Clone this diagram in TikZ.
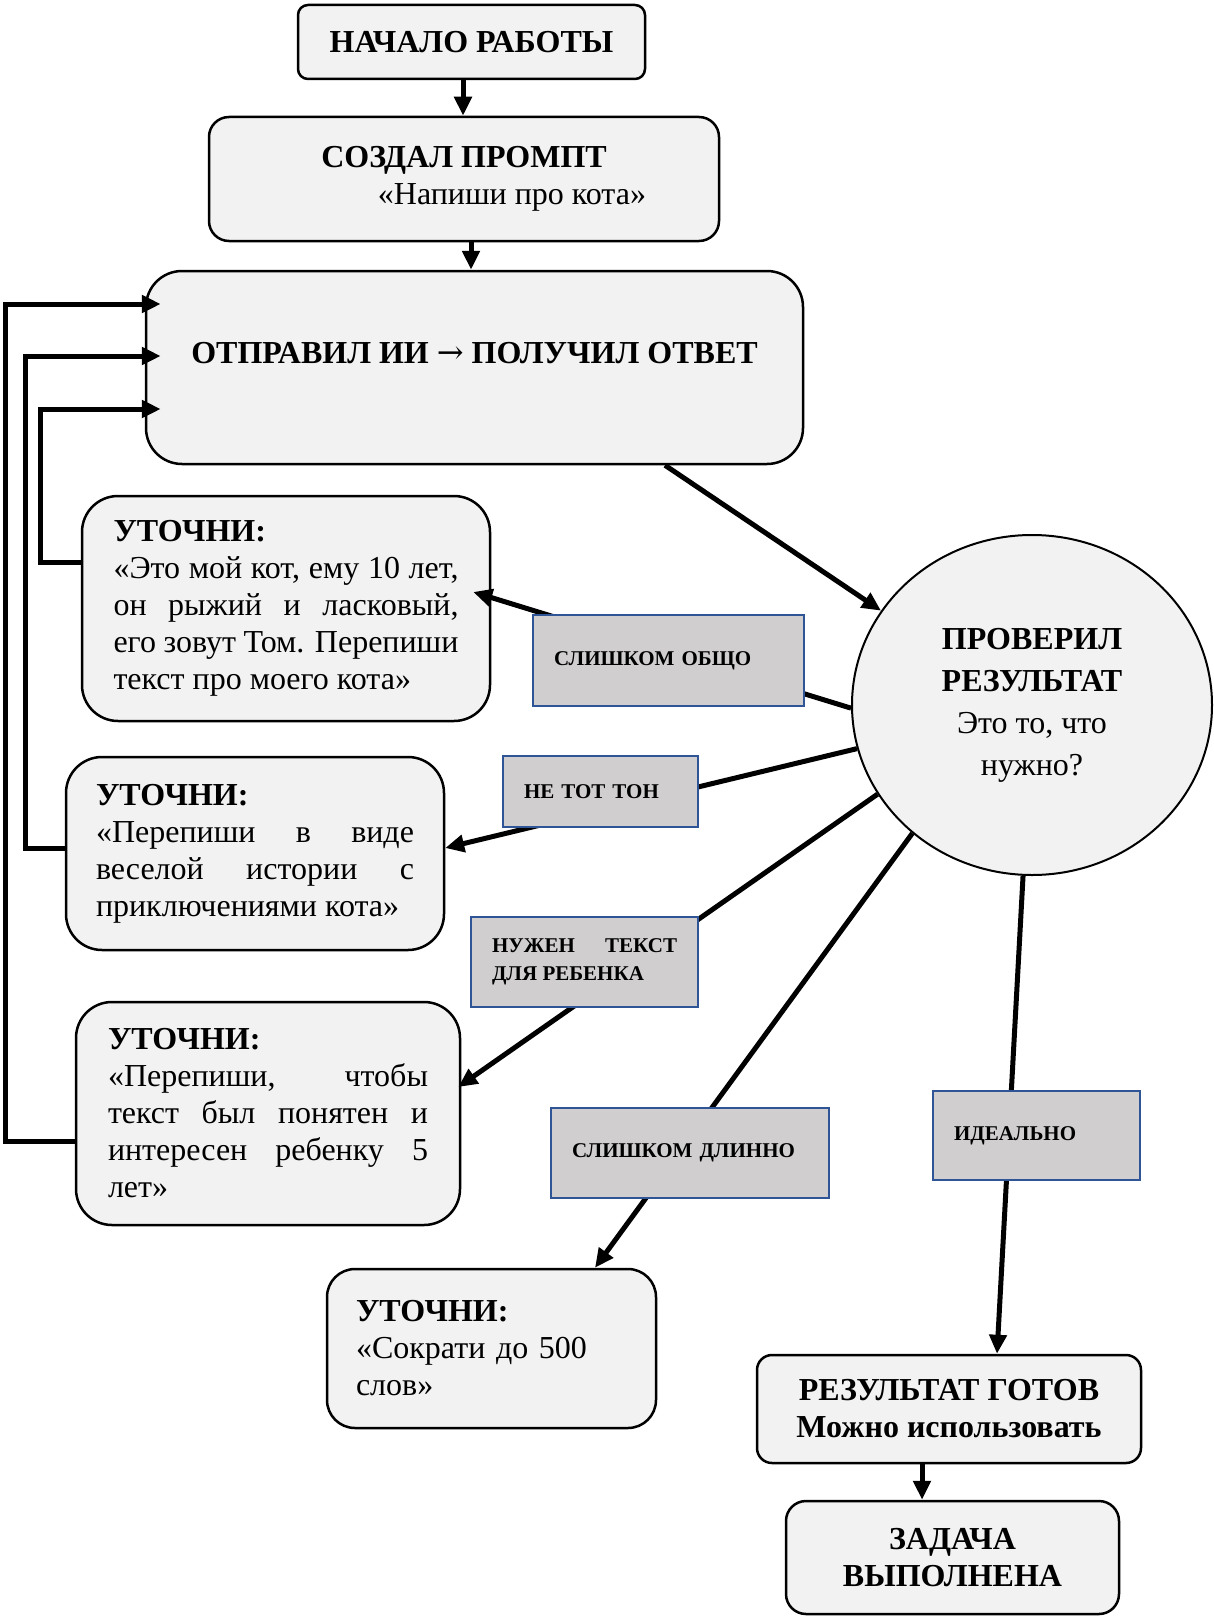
\documentclass[tikz,border=0pt]{standalone}
\usepackage{fontspec}
\setmainfont{Liberation Serif}
\newfontfamily\arrowfont{DejaVu Serif}
\usetikzlibrary{arrows.meta}
\usetikzlibrary{shapes.geometric}
\definecolor{boxgray}{HTML}{F2F2F2}
\definecolor{taggray}{HTML}{D0CECE}
\definecolor{tagblue}{HTML}{2F5597}

\begin{document}
\begin{tikzpicture}[x=1pt, y=-1pt,
>={Triangle[length=19pt,width=17pt]},
block/.style={draw, line width=2.5pt, fill=boxgray, align=center, inner sep=0pt, font=\fontsize{32}{37}\selectfont\bfseries},
ask/.style={block, align=justify, rounded corners=36pt, font=\fontsize{32}{37}\selectfont},
check/.style={ellipse, draw, line width=2pt, fill=boxgray, minimum width=360pt, minimum height=340pt, inner sep=0pt, align=center, font=\fontsize{32}{42}\selectfont\bfseries},
answer/.style={draw=tagblue, line width=2pt, fill=taggray, inner xsep=21pt, inner ysep=0pt, align=left, font=\fontsize{21}{28}\selectfont\bfseries},
flow/.style={->, line width=5pt},
back/.style={->, line width=5pt},
]
\useasboundingbox (0,0) rectangle (1213,1616); %%%%%%%% SIZE OF THE PAGE

%%%%%%%%%%%%%%%%%%%%%%%% MAIN LINE %%%%%%%%%%%%%%%%%%%%%%%%%%%
\node[block, minimum width=347pt, minimum height=74pt, rounded corners=10pt] (start) at (471.5,42) {НАЧАЛО РАБОТЫ};
\node[block, minimum width=510pt, minimum height=124pt, rounded corners=20pt] (prompt) at (464,179)
{СОЗДАЛ ПРОМПТ\\\mdseries\hspace*{96pt}«Напиши про кота»};
\node[block, minimum width=657pt, minimum height=193pt, rounded corners=36pt, text height=22pt, text depth=30pt] (send) at (474.5,367.5)
{ОТПРАВИЛ ИИ {\arrowfont\mdseries →} ПОЛУЧИЛ ОТВЕТ};

\node[check] (check) at (1032,705) {ПРОВЕРИЛ\\РЕЗУЛЬТАТ\\\mdseries Это то, что\\\mdseries нужно?};

\node[block, minimum width=384pt, minimum height=108pt, rounded corners=15pt] (ready) at (949,1409) {РЕЗУЛЬТАТ ГОТОВ\\Можно использовать};
\node[block, minimum width=333pt, minimum height=113pt, rounded corners=20pt] (done) at (952.5,1557.5) {ЗАДАЧА\\ВЫПОЛНЕНА};

%%%%%%%%%%%%%%%%%%%%%%%% CLARIFICATIONS %%%%%%%%%%%%%%%%%%%%%%%%%%%
\node[ask, text width=345pt, minimum width=408pt, minimum height=225pt] (ask1) at (286,608.5)
{{\bfseries УТОЧНИ:}\par «Это мой кот, ему 10 лет,\linebreak он рыжий и ласковый,\linebreak его зовут Том. Перепиши\linebreak текст про моего кота»};
\node[ask, text width=318pt, minimum width=378pt, minimum height=193pt] (ask2) at (255,853.5)
{{\bfseries УТОЧНИ:}\par «Перепиши в виде\linebreak веселой истории с\linebreak приключениями кота»};
\node[ask, text width=320pt, minimum width=384pt, minimum height=223pt] (ask3) at (268,1113.5)
{{\bfseries УТОЧНИ:}\par «Перепиши, чтобы\linebreak текст был понятен и\linebreak интересен ребенку 5\linebreak лет»};
\node[ask, align=left, rounded corners=28pt, text width=271pt, minimum width=329pt, minimum height=159pt] (ask4) at (491.5,1348.5)
{{\bfseries УТОЧНИ:}\\«Сократи до 500\\слов»};

%%%%%%%%%%%%%%%%%%%%%%%% ARROWS %%%%%%%%%%%%%%%%%%%%%%%%%%%
\draw[flow] ([xshift=-8.5pt]start.south) -- ([xshift=-1pt]prompt.north);
\draw[flow] ([xshift=7pt]prompt.south) -- ([xshift=-3.5pt]send.north);
\draw[flow] ([xshift=190.5pt]send.south) -- (check.148);

\draw[flow] (check.181) -- ([xshift=-18pt,yshift=16.5pt]ask1.east);
\draw[flow] (check.194) -- ([yshift=5.5pt]ask2.east);
\draw[flow] (check.210) -- ([xshift=-3pt,yshift=26.5pt]ask3.east);
\draw[flow] (check.227) -- ([xshift=103.5pt]ask4.north);
\draw[flow] (check.267) -- ([xshift=48pt]ready.north);
\draw[flow] ([xshift=-27pt]ready.south) -- ([xshift=-30.5pt]done.north);

% back to the AI
\draw[back] ([yshift=46.5pt]ask1.west) -- ++(-40,0) |- ([xshift=16pt,yshift=-41.5pt]send.west);
\draw[back] ([yshift=5.5pt]ask2.west) -- ++(-39,0) |- ([xshift=16pt,yshift=11.5pt]send.west);
\draw[back] ([yshift=-27.5pt]ask3.west) -- ++(-69,0) |- ([xshift=16pt,yshift=63.5pt]send.west);

%%%%%%%%%%%%%%%%%%%%%%%% ANSWERS %%%%%%%%%%%%%%%%%%%%%%%%%%%
\node[answer, text width=229pt, minimum width=271pt, minimum height=91pt] (general) at (668.5,660.5) {СЛИШКОМ ОБЩО};
\node[answer, text width=153pt, minimum width=195pt, minimum height=71pt] (tone) at (600.5,791.5) {НЕ ТОТ ТОН};
\node[answer, align=justify, text width=185pt, minimum width=227pt, minimum height=90pt] (child) at (584.5,962) {НУЖЕН ТЕКСТ\linebreak ДЛЯ РЕБЕНКА};
\node[answer, text width=236pt, minimum width=278pt, minimum height=90pt] (long) at (690,1153) {СЛИШКОМ ДЛИННО};
\node[answer, text width=165pt, minimum width=207pt, minimum height=89pt] (perfect) at (1036.5,1135.5) {ИДЕАЛЬНО};

\end{tikzpicture}
\end{document}
